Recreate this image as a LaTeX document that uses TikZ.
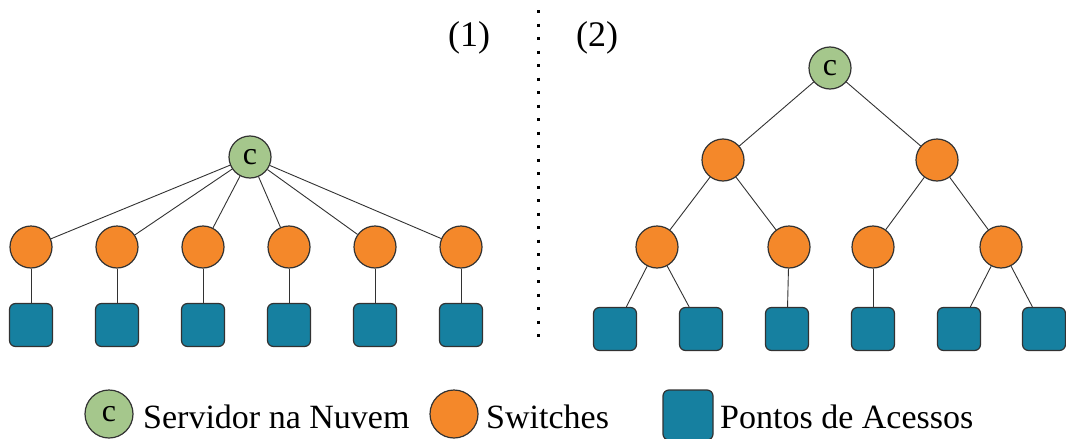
\documentclass[tikz,border=0pt]{standalone}
\usepackage{fontspec}
\setmainfont{Liberation Serif}
\definecolor{cgreen}{RGB}{165,199,140}
\definecolor{corange}{RGB}{244,136,42}
\definecolor{cteal}{RGB}{22,128,160}
\definecolor{cborder}{RGB}{50,50,50}
\begin{document}
\begin{tikzpicture}[x=1pt,y=-1pt,
  cloud/.style={circle,draw=cborder,line width=1.2pt,fill=cgreen,minimum size=42pt,inner sep=0pt,font=\fontsize{32}{33}\selectfont},
  sw/.style={circle,draw=cborder,line width=1.2pt,fill=corange,minimum size=42pt,inner sep=0pt},
  ap/.style={rectangle,rounded corners=6pt,draw=cborder,line width=1.2pt,fill=cteal,minimum width=43pt,minimum height=43pt,inner sep=0pt},
  link/.style={draw=cborder,line width=0.9pt},
  lbl/.style={font=\fontsize{36}{40}\selectfont,inner sep=0pt},
  leg/.style={font=\fontsize{34}{40}\selectfont,inner sep=0pt,anchor=base west}]
\useasboundingbox (0,0) rectangle (1066,439);
% separator
\coordinate (sepT) at (538,10);
\coordinate (sepB) at (538,345);
\draw[line width=3pt,dash pattern=on 3pt off 10.5pt,black] (sepT) -- (sepB);
\node[lbl] (l1) at (469,38) {(1)};
\node[lbl] (l2) at (597,38) {(2)};
% left tree
\node[cloud] (c1) at (250,157) {c};
\foreach \i/\x in {1/31,2/117,3/203,4/289,5/375,6/461}{
  \node[sw] (s\i) at (\x,247) {};
  \node[ap] (a\i) at (\x,325) {};
  \draw[link] (c1) -- (s\i);
  \draw[link] (s\i) -- (a\i);
}
% right tree
\node[cloud] (c2) at (830,68) {c};
\node[sw] (r1) at (723,160) {};
\node[sw] (r2) at (937,160) {};
\node[sw] (q1) at (657,247) {};
\node[sw] (q2) at (789,247) {};
\node[sw] (q3) at (873,247) {};
\node[sw] (q4) at (1001,247) {};
\foreach \i/\x in {1/615,2/701,3/787,4/873,5/959,6/1044}{
  \node[ap] (b\i) at (\x,329) {};
}
\draw[link] (c2) -- (r1);
\draw[link] (c2) -- (r2);
\draw[link] (r1) -- (q1);
\draw[link] (r1) -- (q2);
\draw[link] (r2) -- (q3);
\draw[link] (r2) -- (q4);
\draw[link] (q1) -- (b1);
\draw[link] (q1) -- (b2);
\draw[link] (q2) -- (b3);
\draw[link] (q3) -- (b4);
\draw[link] (q4) -- (b5);
\draw[link] (q4) -- (b6);
% legend
\node[cloud,minimum size=48pt] (lc) at (109,414) {c};
\node[leg] (lct) at (143,428) {Servidor na Nuvem};
\node[sw,minimum size=48pt] (ls) at (454,414) {};
\node[leg] (lst) at (486,428) {Switches};
\node[ap,minimum width=50pt,minimum height=50pt] (la) at (688,415) {};
\node[leg] (lat) at (720,428) {Pontos de Acessos};
\end{tikzpicture}
\end{document}
